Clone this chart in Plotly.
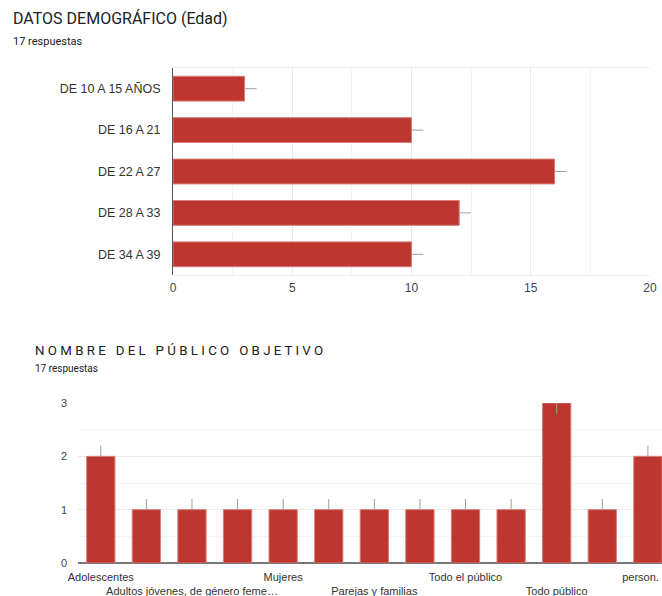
import plotly.graph_objects as go

W, H = 662, 596

# ---- Data: chart 1 (edad) ----
edad_categorias = ["DE 10 A 15 AÑOS", "DE 16 A 21", "DE 22 A 27", "DE 28 A 33", "DE 34 A 39"]
edad_valores = [3, 10, 16, 12, 10]
edad_err = [0.5, 0.5, 0.5, 0.5, 0.5]
edad_ticks = [0, 5, 10, 15, 20]

# ---- Data: chart 2 (público objetivo) ----
publico_etiquetas = ["Adolescentes", "", "Adultos jóvenes, de género feme…", "", "Mujeres", "",
                     "Parejas y familias", "", "Todo el público", "", "Todo público", "", "person."]
publico_valores = [2, 1, 1, 1, 1, 1, 1, 1, 1, 1, 3, 1, 2]
publico_err_mas = [0.2, 0.2, 0.2, 0.2, 0.2, 0.2, 0.2, 0.2, 0.2, 0.2, 0, 0.2, 0.2]
publico_err_menos = [0, 0, 0, 0, 0, 0, 0, 0, 0, 0, 0.2, 0, 0]
publico_yticks = [0, 1, 2, 3]

RED = "#bd3630"
EDGE = "#d77c76"
GRID = "#ebebeb"
MINOR = "#f5f5f5"
TXT = "#444444"

def px_x(p):
    return p / W

def px_y(p):
    return 1 - p / H

fig = go.Figure()

fig.add_trace(go.Bar(
    x=edad_valores, y=edad_categorias, orientation="h",
    marker=dict(color=RED, line=dict(color=EDGE, width=1)),
    width=0.6,
    error_x=dict(type="data", array=edad_err, arrayminus=[0] * len(edad_err),
                 color="#9e9e9e", thickness=1, width=0),
    xaxis="x", yaxis="y", showlegend=False, hoverinfo="x+y",
))

idx = list(range(len(publico_valores)))
fig.add_trace(go.Bar(
    x=idx, y=publico_valores,
    marker=dict(color=RED, line=dict(color=EDGE, width=1)),
    width=0.62,
    error_y=dict(type="data", array=publico_err_mas, arrayminus=publico_err_menos,
                 color="#9e9e9e", thickness=1, width=0),
    xaxis="x2", yaxis="y2", showlegend=False,
))

# staggered tick labels (every other category labelled, alternating rows)
tickvals, ticktext = [], []
row = 0
last = max(i for i, lab in enumerate(publico_etiquetas) if lab)
for i, lab in enumerate(publico_etiquetas):
    if lab:
        # the last label is nudged left so it stays inside the chart edge (as in the reference)
        tickvals.append(i - 0.16 if i == last else i)
        ticktext.append(lab if row == 0 else "<br>" + lab)
        row = 1 - row

fig.update_layout(
    width=W, height=H,
    margin=dict(l=0, r=0, t=0, b=0, autoexpand=False),
    paper_bgcolor="white", plot_bgcolor="white",
    font=dict(family="Liberation Sans, Arial, sans-serif", color=TXT),
    bargap=0.4,
    xaxis=dict(
        domain=[px_x(173), px_x(650)], anchor="y",
        range=[0, 20], tickvals=edad_ticks,
        showgrid=True, gridcolor=GRID, gridwidth=1,
        minor=dict(dtick=2.5, showgrid=True, gridcolor=MINOR, gridwidth=1),
        showline=True, mirror=True, linecolor="#eeeeee", linewidth=1,
        zeroline=False, ticks="", tickfont=dict(size=12, color=TXT),
        ticklabelstandoff=2, fixedrange=True, automargin=False,
    ),
    yaxis=dict(
        domain=[px_y(275), px_y(68)], anchor="x",
        autorange="reversed", categoryorder="array", categoryarray=edad_categorias,
        showline=True, linecolor="#555555", linewidth=1,
        showgrid=False, ticks="", ticklabelstandoff=9,
        tickfont=dict(size=12.5, color="#333333"), automargin=False,
    ),
    xaxis2=dict(
        domain=[px_x(78), 1], anchor="y2",
        range=[-0.5, 12.31], tickvals=tickvals, ticktext=ticktext,
        tickangle=0, showgrid=False, ticks="",
        showline=False, zeroline=False, automargin=False,
        ticklabeloverflow="allow",
        tickfont=dict(size=11, color="#333333"), ticklabelstandoff=6,
    ),
    yaxis2=dict(
        domain=[px_y(563), px_y(403)], anchor="x2",
        range=[0, 3], tickvals=publico_yticks,
        showgrid=True, gridcolor=GRID, gridwidth=1,
        minor=dict(dtick=0.5, showgrid=True, gridcolor=MINOR, gridwidth=1),
        zeroline=True, zerolinecolor="#777777", zerolinewidth=1.5,
        ticks="", tickfont=dict(size=11, color=TXT), ticklabelstandoff=10,
        automargin=False,
    ),
    annotations=[
        dict(text="DATOS DEMOGRÁFICO (Edad)", x=px_x(11), y=px_y(18), xref="paper", yref="paper",
             xanchor="left", yanchor="middle", showarrow=False,
             font=dict(family="Roboto, sans-serif", size=16, color="#202124")),
        dict(text="17 respuestas", x=px_x(11), y=px_y(41), xref="paper", yref="paper",
             xanchor="left", yanchor="middle", showarrow=False,
             font=dict(family="Roboto, sans-serif", size=11, color="#202124")),
        dict(text="N O M B R E \u00a0 D E L \u00a0 P Ú B L I C O \u00a0 O B J E T I V O",
             x=px_x(33), y=px_y(350), xref="paper", yref="paper",
             xanchor="left", yanchor="middle", showarrow=False,
             font=dict(family="Roboto, sans-serif", size=13.3, color="#202124")),
        dict(text="17 respuestas", x=px_x(33), y=px_y(368), xref="paper", yref="paper",
             xanchor="left", yanchor="middle", showarrow=False,
             font=dict(family="Roboto, sans-serif", size=10, color="#202124")),
    ],
)

fig.write_html("out.html")
